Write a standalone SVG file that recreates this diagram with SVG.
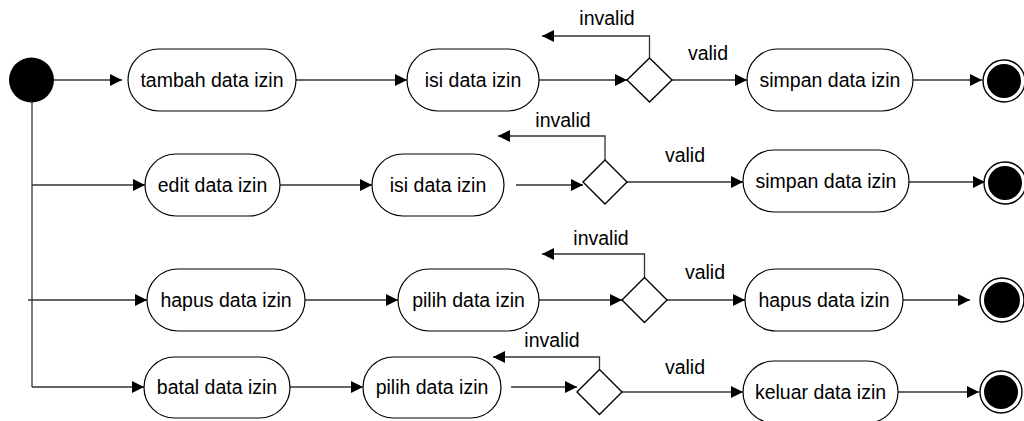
<svg xmlns="http://www.w3.org/2000/svg" width="1024" height="421" viewBox="0 0 1024 421">
  <defs>
    <marker id="arrow" markerUnits="userSpaceOnUse" markerWidth="12" markerHeight="12" refX="12" refY="6" orient="auto">
      <path d="M0,0 L12,6 L0,12 z" fill="#000"/>
    </marker>
    <style>
      .act { fill: #fff; stroke: #000; stroke-width: 1.2; }
      .dec { fill: #fff; stroke: #000; stroke-width: 1.4; }
      .lbl { font-family: "Liberation Sans", Arial, sans-serif; font-size: 19.5px; fill: #000; text-anchor: middle; }
      .edge { fill: none; stroke: #333; stroke-width: 1.3; }
      .arr { marker-end: url(#arrow); }
      .start { fill: #000; }
      .endo { fill: #fff; stroke: #000; stroke-width: 1.4; }
      .endi { fill: #000; }
    </style>
  </defs>

  <!-- connectors -->
  <g id="connectors">
    <!-- initial node fan-out -->
    <line class="edge" x1="32" y1="102" x2="32" y2="387"/>
    <line class="edge arr" x1="54" y1="80" x2="122" y2="80"/>
    <line class="edge arr" x1="32" y1="185" x2="145" y2="185"/>
    <line class="edge arr" x1="28" y1="300" x2="147" y2="300"/>
    <line class="edge arr" x1="32" y1="387" x2="144" y2="387"/>

    <!-- row 1 -->
    <line class="edge arr" x1="296" y1="80" x2="407" y2="80"/>
    <line class="edge arr" x1="539" y1="80" x2="627" y2="80"/>
    <path class="edge arr" d="M649.5,58 V36 H542"/>
    <line class="edge arr" x1="672" y1="80" x2="747" y2="80"/>
    <line class="edge arr" x1="913" y1="80" x2="982" y2="80"/>

    <!-- row 2 -->
    <line class="edge arr" x1="280" y1="185" x2="372" y2="185"/>
    <line class="edge arr" x1="516" y1="185" x2="583" y2="185"/>
    <path class="edge arr" d="M605,160 V136 H498"/>
    <line class="edge arr" x1="627" y1="182" x2="743" y2="182"/>
    <line class="edge arr" x1="909" y1="182" x2="985" y2="182"/>

    <!-- row 3 -->
    <line class="edge arr" x1="305" y1="300" x2="398" y2="300"/>
    <line class="edge arr" x1="539" y1="300" x2="622" y2="300"/>
    <path class="edge arr" d="M644.5,277.5 V254 H542"/>
    <line class="edge arr" x1="667" y1="300" x2="745" y2="300"/>
    <line class="edge arr" x1="903" y1="300" x2="970" y2="300"/>

    <!-- row 4 -->
    <line class="edge arr" x1="290" y1="387" x2="363" y2="387"/>
    <line class="edge arr" x1="511" y1="387" x2="577" y2="387"/>
    <path class="edge arr" d="M599.5,369.5 V357 H493"/>
    <line class="edge arr" x1="622" y1="392" x2="743" y2="392"/>
    <line class="edge arr" x1="898" y1="392" x2="979" y2="392"/>

    <!-- guard labels -->
    <text class="lbl" x="607" y="25">invalid</text>
    <text class="lbl" x="708" y="60">valid</text>
    <text class="lbl" x="563" y="127">invalid</text>
    <text class="lbl" x="685" y="162">valid</text>
    <text class="lbl" x="601" y="245">invalid</text>
    <text class="lbl" x="705" y="279">valid</text>
    <text class="lbl" x="552" y="347">invalid</text>
    <text class="lbl" x="685" y="374">valid</text>
  </g>

  <!-- initial node -->
  <g id="start">
    <circle class="start" cx="31.5" cy="80" r="22.5"/>
  </g>

  <!-- row 1: tambah -->
  <g id="tambah">
    <rect class="act" x="128" y="49" width="168" height="62" rx="31"/>
    <text class="lbl" x="212" y="87">tambah data izin</text>
  </g>
  <g id="isi1">
    <rect class="act" x="407" y="49" width="132" height="62" rx="31"/>
    <text class="lbl" x="473" y="87">isi data izin</text>
  </g>
  <g id="dec1">
    <polygon class="dec" points="649.5,58 672,80 649.5,102 627,80"/>
  </g>
  <g id="simpan1">
    <rect class="act" x="747" y="49" width="166" height="62" rx="31"/>
    <text class="lbl" x="830" y="87">simpan data izin</text>
  </g>
  <g id="end1">
    <circle class="endo" cx="1004" cy="81" r="21"/>
    <circle class="endi" cx="1004" cy="81" r="17"/>
  </g>

  <!-- row 2: edit -->
  <g id="edit">
    <rect class="act" x="145" y="154" width="135" height="62" rx="31"/>
    <text class="lbl" x="212.5" y="192">edit data izin</text>
  </g>
  <g id="isi2">
    <rect class="act" x="372" y="154" width="132" height="62" rx="31"/>
    <text class="lbl" x="438" y="192">isi data izin</text>
  </g>
  <g id="dec2">
    <polygon class="dec" points="605,160 627,182 605,204 583,182"/>
  </g>
  <g id="simpan2">
    <rect class="act" x="743" y="150" width="166" height="62" rx="31"/>
    <text class="lbl" x="826" y="188">simpan data izin</text>
  </g>
  <g id="end2">
    <circle class="endo" cx="1005" cy="183" r="21"/>
    <circle class="endi" cx="1005" cy="183" r="17"/>
  </g>

  <!-- row 3: hapus -->
  <g id="hapus">
    <rect class="act" x="147" y="269" width="158" height="62" rx="31"/>
    <text class="lbl" x="226" y="307">hapus data izin</text>
  </g>
  <g id="pilih1">
    <rect class="act" x="398" y="269" width="141" height="62" rx="31"/>
    <text class="lbl" x="468.5" y="307">pilih data izin</text>
  </g>
  <g id="dec3">
    <polygon class="dec" points="644.5,277.5 667,300 644.5,322.5 622,300"/>
  </g>
  <g id="hapus2">
    <rect class="act" x="745" y="269" width="158" height="62" rx="31"/>
    <text class="lbl" x="824" y="307">hapus data izin</text>
  </g>
  <g id="end3">
    <circle class="endo" cx="1002" cy="300" r="22"/>
    <circle class="endi" cx="1002" cy="300" r="18"/>
  </g>

  <!-- row 4: batal -->
  <g id="batal">
    <rect class="act" x="144" y="357" width="146" height="61" rx="30.5"/>
    <text class="lbl" x="217" y="394">batal data izin</text>
  </g>
  <g id="pilih2">
    <rect class="act" x="363" y="357" width="138" height="61" rx="30.5"/>
    <text class="lbl" x="432" y="394">pilih data izin</text>
  </g>
  <g id="dec4">
    <polygon class="dec" points="599.5,369.5 622,392 599.5,414.5 577,392"/>
  </g>
  <g id="keluar">
    <rect class="act" x="743" y="361" width="155" height="62" rx="31"/>
    <text class="lbl" x="820.5" y="399">keluar data izin</text>
  </g>
  <g id="end4">
    <circle class="endo" cx="1001" cy="392" r="21"/>
    <circle class="endi" cx="1001" cy="392" r="17"/>
  </g>
</svg>
